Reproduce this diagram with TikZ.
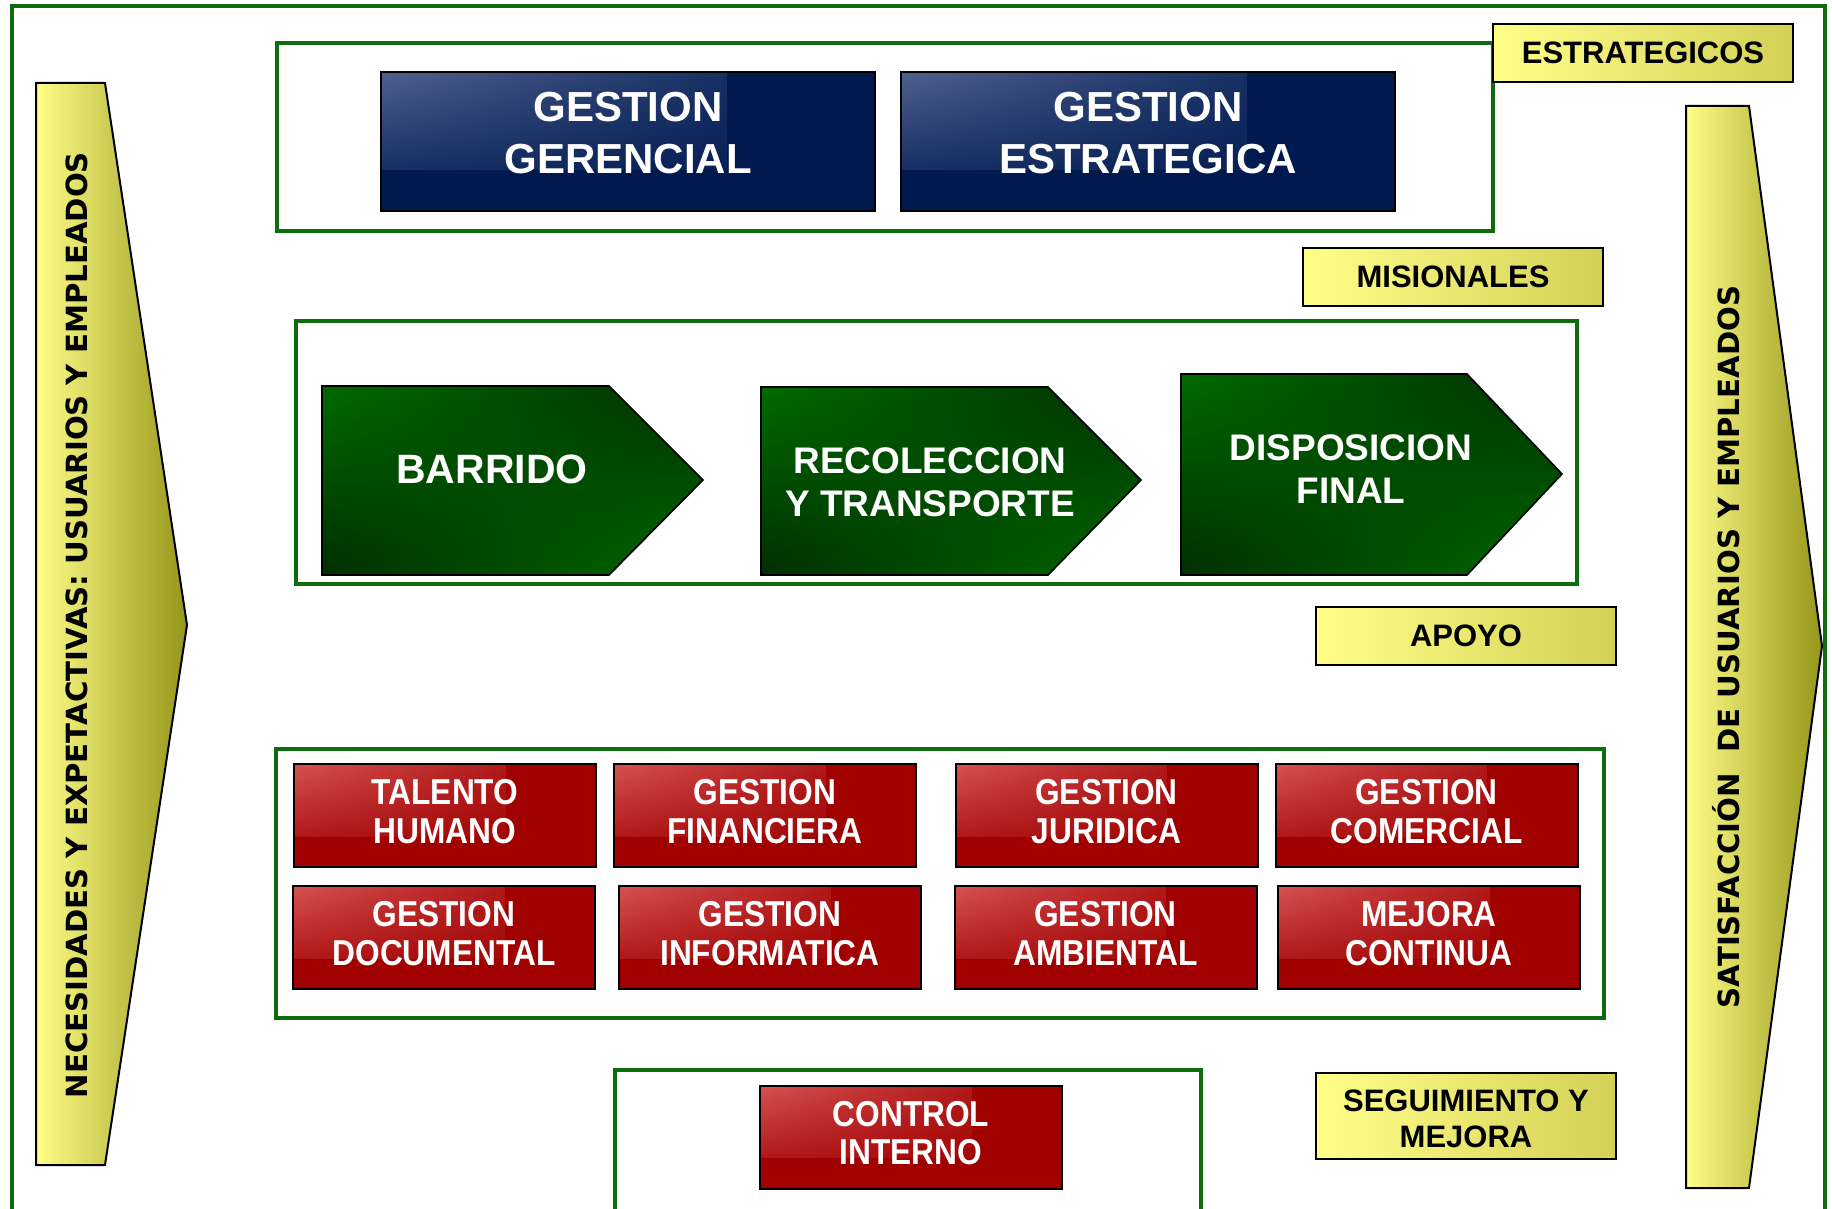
\documentclass[tikz,border=0pt]{standalone}
\usepackage{fontspec}
\newfontfamily\arialfont{Liberation Sans}
\newfontfamily\narrowfont[FakeStretch=0.88]{Liberation Sans}
\newfontfamily\verdfont{DejaVu Sans}
\usetikzlibrary{calc,shadings}

\definecolor{framegreen}{RGB}{14,108,14}
\definecolor{navydk}{RGB}{0,26,80}
\definecolor{navylt}{RGB}{78,96,142}
\definecolor{reddk}{RGB}{160,0,0}
\definecolor{redlt}{RGB}{214,82,82}
\definecolor{greenmid}{RGB}{0,106,0}
\definecolor{greendk}{RGB}{0,46,0}
\definecolor{ylwlt}{RGB}{255,255,136}
\definecolor{ylwmd}{RGB}{212,208,86}
\definecolor{ylwdk}{RGB}{150,150,26}

\begin{document}
\begin{tikzpicture}[
    x=0.5pt, y=-0.5pt,
    every node/.append style = {font=\arialfont\bfseries, inner sep=0pt, align=center},
    frame/.style = {draw=framegreen, line width=1.6pt},
    glossy/.style 2 args = {draw=black, line width=1pt, fill=#1,
      path picture={\shade[upper left=#2, upper right=#1, lower left=#1, lower right=#1]
        (path picture bounding box.north west) rectangle
        ($(path picture bounding box.north west)!0.7!(path picture bounding box.south east)$);}},
    navybox/.style = {glossy={navydk}{navylt}, minimum width=247pt, minimum height=69.5pt},
    navytext/.style = {text=white, font=\arialfont\bfseries\fontsize{21}{25.7}\selectfont},
    redbox/.style = {glossy={reddk}{redlt}, minimum width=151pt, minimum height=51.5pt},
    redtext/.style = {text=white, font=\narrowfont\bfseries\fontsize{18}{19.3}\selectfont},
    tagtext/.style = {font=\arialfont\bfseries\fontsize{15.5}{18}\selectfont},
    tag/.style = {tagtext, draw=black, line width=1pt, left color=ylwlt, right color=ylwmd,
      minimum width=150pt, minimum height=28.8pt},
    chevron/.style = {draw=black, line width=0.8pt, upper left=greenmid,
      upper right=greendk, lower left=greendk, lower right=greenmid},
    chevtext/.style = {text=white, font=\arialfont\bfseries\fontsize{18.5}{21.6}\selectfont},
    bigarrow/.style = {draw=black, line width=1pt, left color=ylwlt, right color=ylwdk},
    sidetext/.style = {rotate=90, font=\verdfont\bfseries\fontsize{14.6}{17}\selectfont}
  ]
  \useasboundingbox (0,0) rectangle (1832,1209);

  % marcos
  \draw[frame] (12,1220) -- (12,6) -- (1825,6) -- (1825,1220);
  \draw[frame] (277,43) rectangle (1493,231);
  \draw[frame] (296,321) rectangle (1577,584);
  \draw[frame] (276,749) rectangle (1604,1018);
  \draw[frame] (615,1220) -- (615,1070) -- (1201,1070) -- (1201,1220);

  % flechas laterales
  \shade[bigarrow] (36,83) -- (105,83) -- (187,625) -- (105,1165) -- (36,1165) -- cycle;
  \node[sidetext] (entrada) at (77,625)
    {NECESIDADES Y EXPETACTIVAS: USUARIOS Y EMPLEADOS};
  \shade[bigarrow] (1686,106) -- (1749,106) -- (1822,646) -- (1749,1188) -- (1686,1188) -- cycle;
  \node[sidetext] (salida) at (1726,647)
    {SATISFACCIÓN\ \ DE USUARIOS Y EMPLEADOS};

  % etiquetas
  \node[tag] (estrategicos) at (1643,53) {ESTRATEGICOS};
  \node[tag] (misionales) at (1453,277) {MISIONALES};
  \node[tag] (apoyo) at (1466,636) {APOYO};
  \node[tag, minimum height=42.6pt] (seguimiento) at (1466,1116) {};
  \node[tagtext] (seguimiento-t) at ([yshift=-1.6pt]seguimiento.center)
    {SEGUIMIENTO Y\\MEJORA};

  % estrategicos
  \node[navybox] (gerencial) at (628,142) {};
  \node[navytext] (gerencial-t) at ([yshift=4.4pt]gerencial.center) {GESTION\\GERENCIAL};
  \node[navybox] (estrategica) at (1148,142) {};
  \node[navytext] (estrategica-t) at ([yshift=4.4pt]estrategica.center) {GESTION\\ESTRATEGICA};

  % misionales
  \shade[chevron] (322,386) -- (609,386) -- (703,480) -- (609,575) -- (322,575) -- cycle;
  \node[chevtext, font=\arialfont\bfseries\fontsize{20.5}{24}\selectfont] (barrido)
    at (492,469) {BARRIDO};
  \shade[chevron] (761,387) -- (1048,387) -- (1141,480) -- (1048,575) -- (761,575) -- cycle;
  \node[chevtext] (recoleccion) at (930,482) {RECOLECCION\\Y TRANSPORTE};
  \shade[chevron] (1181,374) -- (1467,374) -- (1562,474) -- (1467,575) -- (1181,575) -- cycle;
  \node[chevtext] (disposicion) at (1351,469) {DISPOSICION\\FINAL};

  % apoyo
  \foreach \nm/\cx/\cy/\txt in {
      talento/445/815.5/{TALENTO\\HUMANO},
      financiera/765/815.5/{GESTION\\FINANCIERA},
      juridica/1106.5/815.5/{GESTION\\JURIDICA},
      comercial/1426.5/815.5/{GESTION\\COMERCIAL},
      documental/444/937.5/{GESTION\\DOCUMENTAL},
      informatica/770/937.5/{GESTION\\INFORMATICA},
      ambiental/1105.5/937.5/{GESTION\\AMBIENTAL},
      mejora/1429/937.5/{MEJORA\\CONTINUA},
      control/911/1137/{CONTROL\\INTERNO}} {
    \node[redbox] (\nm) at (\cx,\cy) {};
    \node[redtext] (\nm-t) at ([yshift=2pt]\nm.center) {\txt};
  }
\end{tikzpicture}
\end{document}
